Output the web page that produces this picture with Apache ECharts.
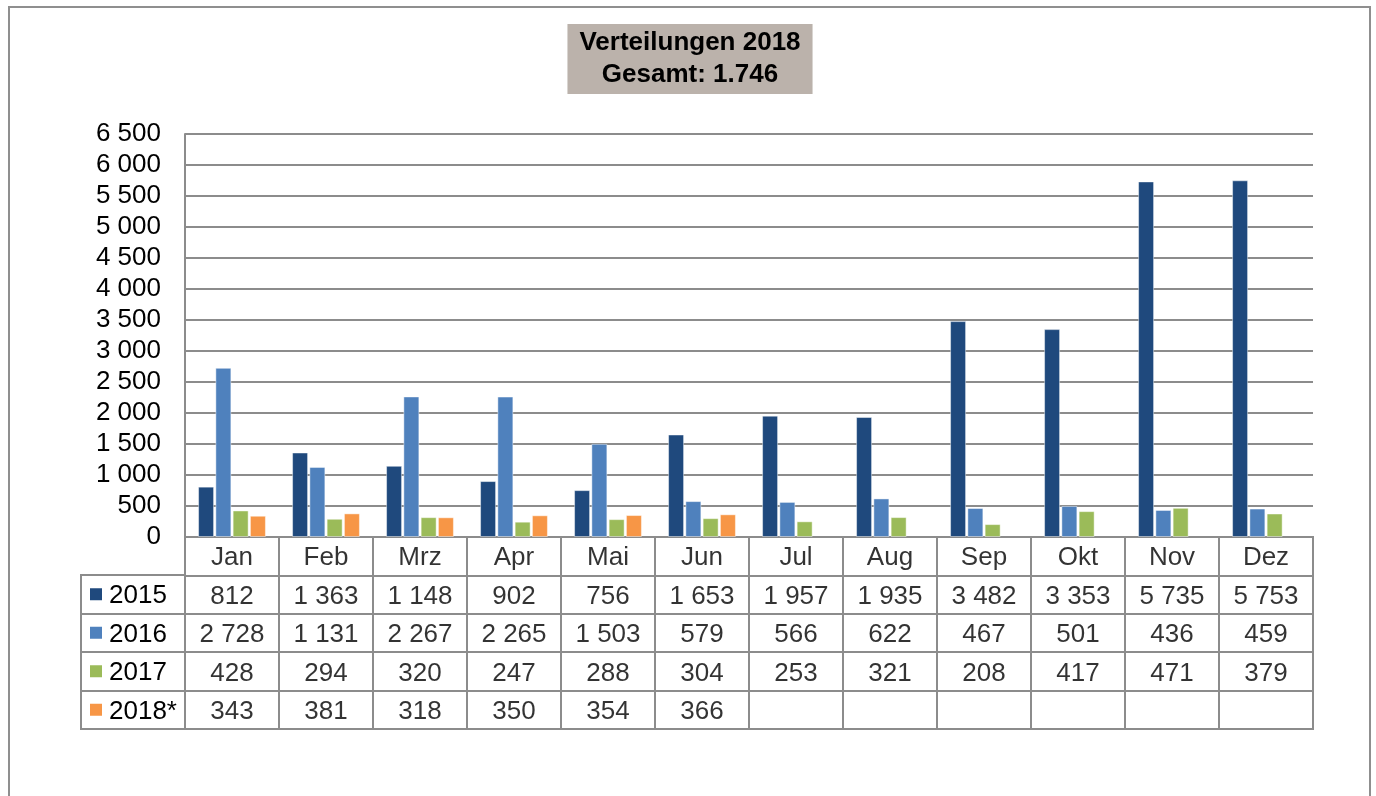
<!DOCTYPE html>
<html>
<head>
<meta charset="utf-8">
<script src="https://cdn.jsdelivr.net/npm/echarts@6/dist/echarts.min.js"></script>
<style>
  html, body { margin: 0; padding: 0; background: #fff; }
  #main { width: 1376px; height: 796px; }
</style>
</head>
<body>
<div id="main"></div>
<script>
var months = ['Jan', 'Feb', 'Mrz', 'Apr', 'Mai', 'Jun', 'Jul', 'Aug', 'Sep', 'Okt', 'Nov', 'Dez'];
var years = ['2015', '2016', '2017', '2018*'];
var s2015 = [812, 1363, 1148, 902, 756, 1653, 1957, 1935, 3482, 3353, 5735, 5753];
var s2016 = [2728, 1131, 2267, 2265, 1503, 579, 566, 622, 467, 501, 436, 459];
var s2017 = [428, 294, 320, 247, 288, 304, 253, 321, 208, 417, 471, 379];
var s2018 = [343, 381, 318, 350, 354, 366];
var colors = ['#1F497D', '#4F81BD', '#9BBB59', '#F79646'];

var font = "'Liberation Sans', Arial, sans-serif";
var lineCol = '#8c8c8c';
var fs = 26;

function fmt(n) {
  return String(n).replace(/\B(?=(\d{3})+(?!\d))/g, ' ');
}

var allSeries = [s2015, s2016, s2017, s2018];

// table cells: header row (months) + one row per year
var cells = [];
months.forEach(function (m, i) {
  cells.push({ value: [i, 0], text: m });
});
allSeries.forEach(function (arr, r) {
  arr.forEach(function (v, i) {
    cells.push({ value: [i, r + 1], text: fmt(v) });
  });
});

var rich = { t: { fontSize: fs, fontFamily: font, color: '#000', padding: [4, 0, 0, 7] } };
colors.forEach(function (c, i) {
  rich['s' + i] = { width: 12, height: 12, backgroundColor: c };
});

var chart = echarts.init(document.getElementById('main'));

var bars = allSeries.map(function (arr, i) {
  return {
    name: years[i],
    type: 'bar',
    xAxisIndex: 0,
    yAxisIndex: 0,
    data: arr,
    barWidth: 16,
    barGap: '8%',
    itemStyle: { color: colors[i], borderColor: 'rgba(255,255,255,0.45)', borderWidth: 1 }
  };
});

var option = {
  animation: false,
  title: {
    text: 'Verteilungen 2018\nGesamt: 1.746',
    left: 678,
    top: 24,
    textAlign: 'center',
    backgroundColor: '#BBB2AB',
    padding: [3, 12, 3, 12],
    textStyle: { fontFamily: font, fontWeight: 'bold', fontSize: 26, lineHeight: 32, color: '#000' }
  },
  graphic: [{
    type: 'rect',
    shape: { x: 9, y: 7, width: 1361, height: 830 },
    style: { fill: 'none', stroke: '#8f8f8f', lineWidth: 2 },
    silent: true
  }],
  grid: [
    { left: 185, top: 134, width: 1128, height: 403 },
    { left: 185, top: 537, width: 1128, height: 192, show: true, borderColor: lineCol, borderWidth: 2 },
    { left: 81, top: 575, width: 104, height: 154, show: true, borderColor: lineCol, borderWidth: 2 }
  ],
  xAxis: [
    {
      gridIndex: 0, type: 'category', data: months,
      axisLine: { show: true, lineStyle: { color: lineCol, width: 2 } },
      axisTick: { show: false }, axisLabel: { show: false }
    },
    {
      gridIndex: 1, type: 'category', data: months,
      axisLine: { show: false }, axisTick: { show: false }, axisLabel: { show: false },
      splitLine: { show: true, interval: 0, lineStyle: { color: lineCol, width: 2 } }
    },
    {
      gridIndex: 2, type: 'category', data: [''],
      axisLine: { show: false }, axisTick: { show: false }, axisLabel: { show: false }
    }
  ],
  yAxis: [
    {
      gridIndex: 0, type: 'value', min: 0, max: 6500, interval: 500,
      axisLine: { show: true, lineStyle: { color: lineCol, width: 2 } },
      axisTick: { show: false },
      axisLabel: { margin: 24, fontSize: fs, fontFamily: font, color: '#000', formatter: fmt },
      splitLine: { lineStyle: { color: lineCol, width: 2 } }
    },
    {
      gridIndex: 1, type: 'category', inverse: true, data: [''].concat(years),
      axisLine: { show: false }, axisTick: { show: false }, axisLabel: { show: false },
      splitLine: { show: true, interval: 0, lineStyle: { color: lineCol, width: 2 } }
    },
    {
      gridIndex: 2, type: 'category', inverse: true, data: years,
      axisLine: { show: false }, axisTick: { show: false },
      axisLabel: {
        inside: true, margin: 9,
        formatter: function (v, i) { return '{s' + i + '|}{t|' + v + '}'; },
        rich: rich
      },
      splitLine: { show: true, interval: 0, lineStyle: { color: lineCol, width: 2 } }
    }
  ],
  series: bars.concat([{
    type: 'scatter',
    xAxisIndex: 1,
    yAxisIndex: 1,
    symbolSize: 0,
    silent: true,
    data: cells,
    label: {
      show: true,
      position: 'inside',
      offset: [0, 2],
      fontSize: fs,
      fontFamily: font,
      color: '#000',
      formatter: function (p) { return p.data.text; }
    }
  }])
};

chart.setOption(option);
</script>
</body>
</html>
